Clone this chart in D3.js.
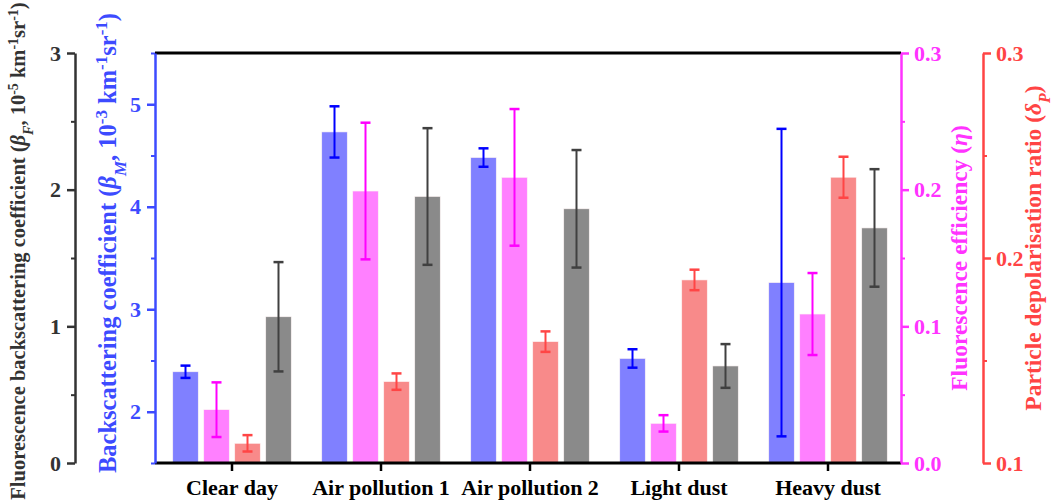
<!DOCTYPE html>
<html>
<head>
<meta charset="utf-8">
<script src="https://cdn.jsdelivr.net/npm/d3@7"></script>
<style>
  body { margin: 0; background: #fff; }
  svg text { font-family: "Liberation Serif", "Times New Roman", serif; font-weight: bold; }
</style>
</head>
<body>
<svg width="1055" height="501"></svg>
<script>
// categories + values
var categories = ["Clear day", "Air pollution 1", "Air pollution 2", "Light dust", "Heavy dust"];
var betaM    = [2.39, 4.73, 4.48, 2.52, 3.26];
var betaMErr = [0.06, 0.25, 0.09, 0.09, 1.50];
var eta      = [0.039, 0.199, 0.209, 0.029, 0.109];
var etaErr   = [0.020, 0.050, 0.050, 0.006, 0.030];
var deltaP   = [0.1096, 0.1397, 0.1592, 0.1893, 0.2394];
var deltaPErr= [0.004, 0.004, 0.005, 0.005, 0.010];
var betaF    = [1.07, 1.95, 1.86, 0.71, 1.72];
var betaFErr = [0.40, 0.50, 0.43, 0.16, 0.43];

var ticksF = [0, 1, 2, 3];
var ticksM = [2, 3, 4, 5];
var ticksEta = [0.0, 0.1, 0.2, 0.3];
var ticksDelta = [0.1, 0.2, 0.3];

var drawChart = function()
{
  var plot = {top: 53, bottom: 463, left: 155, right: 901};
  var svg = d3.select("svg");

  var x = d3.scaleBand().domain(categories).range([157.5, 902.5]).padding(0);
  var series = ["M", "eta", "delta", "F"];
  var xInner = d3.scaleBand().domain(series).range([-59.25, 59.25]).paddingInner(0.177);

  var yF = d3.scaleLinear().domain([0, 3]).range([plot.bottom, plot.top]);
  var yM = d3.scaleLinear().domain([1.5, 5.5]).range([plot.bottom, plot.top]);
  var yEta = d3.scaleLinear().domain([0, 0.3]).range([plot.bottom, plot.top]);
  var yDelta = d3.scaleLinear().domain([0.1, 0.3]).range([plot.bottom, plot.top]);

  var cfg = {
    M:     {vals: betaM,  err: betaMErr,  y: yM,     fill: "#8080ff", ec: "#0000ff"},
    eta:   {vals: eta,    err: etaErr,    y: yEta,   fill: "#ff80ff", ec: "#ff00ff"},
    delta: {vals: deltaP, err: deltaPErr, y: yDelta, fill: "#f88a8a", ec: "#ff4545"},
    F:     {vals: betaF,  err: betaFErr,  y: yF,     fill: "#8a8a8a", ec: "#404040"}
  };

  // bars
  series.forEach(function(s)
  {
    var c = cfg[s];
    var rows = categories.map(function(cat, i) { return {cat: cat, v: c.vals[i], e: c.err[i]}; });
    svg.append("g").selectAll("rect").data(rows).enter().append("rect")
      .attr("x", function(d) { return x(d.cat) + x.bandwidth() / 2 + xInner(s); })
      .attr("width", xInner.bandwidth())
      .attr("y", function(d) { return c.y(d.v); })
      .attr("height", function(d) { return plot.bottom - c.y(d.v); })
      .attr("fill", c.fill)
      .attr("stroke", "#fdf4f4").attr("stroke-width", 0.6);
  });

  // error bars
  series.forEach(function(s)
  {
    var c = cfg[s];
    var g = svg.append("g").attr("stroke", c.ec).attr("stroke-width", 2).attr("fill", "none");
    categories.forEach(function(cat, i)
    {
      var cx = x(cat) + x.bandwidth() / 2 + xInner(s) + xInner.bandwidth() / 2;
      var y1 = c.y(c.vals[i] + c.err[i]), y0 = c.y(c.vals[i] - c.err[i]);
      g.append("line").attr("x1", cx).attr("x2", cx).attr("y1", y1).attr("y2", y0);
      g.append("line").attr("x1", cx - 5).attr("x2", cx + 5).attr("y1", y1).attr("y2", y1).attr("stroke-width", 2.5);
      g.append("line").attr("x1", cx - 5).attr("x2", cx + 5).attr("y1", y0).attr("y2", y0).attr("stroke-width", 2.5);
    });
  });

  // top frame line
  svg.append("line").attr("x1", plot.left).attr("x2", plot.right).attr("y1", plot.top).attr("y2", plot.top)
    .attr("stroke", "#000").attr("stroke-width", 3);

  var xAxis = svg.append("g").attr("transform", "translate(0," + plot.bottom + ")")
    .call(d3.axisBottom(x).tickSize(8).tickSizeOuter(0).tickPadding(8));
  xAxis.select(".domain").remove();
  xAxis.append("line").attr("x1", plot.left).attr("x2", plot.right).attr("stroke", "#000").attr("stroke-width", 3);
  xAxis.selectAll(".tick line").attr("stroke", "#000").attr("stroke-width", 2.5);
  xAxis.selectAll(".tick text").attr("fill", "#000").style("font-size", "22px");

  var styleAxis = function(g, color)
  {
    g.select(".domain").attr("stroke", color).attr("stroke-width", 2.5);
    g.selectAll(".tick line").attr("stroke", color).attr("stroke-width", 2.5);
    g.selectAll(".tick text").attr("fill", color).style("font-size", "22px");
  };

  var minor = function(g, scale, vals, color, dir)
  {
    var ax = dir === "left" ? d3.axisLeft(scale) : d3.axisRight(scale);
    var m = g.append("g").call(ax.tickValues(vals).tickSize(4).tickSizeOuter(0).tickFormat(""));
    m.select(".domain").remove();
    m.selectAll(".tick line").attr("stroke", color).attr("stroke-width", 2);
  };

  // far-left black axis (beta F)
  var gF = svg.append("g").attr("transform", "translate(75,0)");
  gF.call(d3.axisLeft(yF).tickValues(ticksF).tickSize(8).tickSizeOuter(0).tickPadding(6).tickFormat(d3.format("d")));
  styleAxis(gF, "#333");
  minor(gF, yF, [0.5, 1.5, 2.5], "#333", "left");

  // blue axis (beta M)
  var gM = svg.append("g").attr("transform", "translate(" + plot.left + ",0)");
  gM.call(d3.axisLeft(yM).tickValues(ticksM).tickSize(8).tickSizeOuter(0).tickPadding(6).tickFormat(d3.format("d")));
  styleAxis(gM, "#3d4bff");
  minor(gM, yM, [1.5, 2.5, 3.5, 4.5, 5.5], "#3d4bff", "left");

  // magenta axis (eta)
  var gE = svg.append("g").attr("transform", "translate(" + plot.right + ",0)");
  gE.call(d3.axisRight(yEta).tickValues(ticksEta).tickSize(8).tickSizeOuter(0).tickPadding(5).tickFormat(d3.format(".1f")));
  styleAxis(gE, "#ff33ff");
  minor(gE, yEta, [0.05, 0.15, 0.25], "#ff33ff", "right");

  // red axis (delta P)
  var gD = svg.append("g").attr("transform", "translate(983,0)");
  gD.call(d3.axisRight(yDelta).tickValues(ticksDelta).tickSize(8).tickSizeOuter(0).tickPadding(5).tickFormat(d3.format(".1f")));
  styleAxis(gD, "#ff4444");
  minor(gD, yDelta, [0.15, 0.25], "#ff4444", "right");

  // axis titles with super/subscripts
  var title = function(xp, yp, color, size, parts)
  {
    var t = svg.append("text").attr("transform", "translate(" + xp + "," + yp + ") rotate(-90)")
      .attr("text-anchor", "middle").attr("fill", color).style("font-size", size + "px");
    parts.forEach(function(p)
    {
      var ts = t.append("tspan").text(p[0]);
      if (p[1] === "sup") ts.attr("baseline-shift", "super").style("font-size", Math.round(size * 0.7) + "px");
      if (p[1] === "sub") ts.attr("baseline-shift", "sub").style("font-size", Math.round(size * 0.7) + "px").style("font-style", "italic");
      if (p[1] === "it") ts.style("font-style", "italic");
    });
  };

  title(25, 251, "#333", 20.5, [["Fluorescence backscattering coefficient ("], ["β", "it"], ["F", "sub"], [", 10"], ["-5", "sup"], [" km"], ["-1", "sup"], ["sr"], ["-1", "sup"], [")"]]);
  title(116, 243, "#3d4bff", 24.5, [["Backscattering coefficient ("], ["β", "it"], ["M", "sub"], [", 10"], ["-3", "sup"], [" km"], ["-1", "sup"], ["sr"], ["-1", "sup"], [")"]]);
  title(967, 258, "#ff33ff", 23.5, [["Fluorescence efficiency ("], ["η", "it"], [")"]]);
  title(1041, 248, "#ff4444", 23.5, [["Particle depolarisation ratio ("], ["δ", "it"], ["P", "sub"], [")"]]);
};

drawChart();
</script>
</body>
</html>
